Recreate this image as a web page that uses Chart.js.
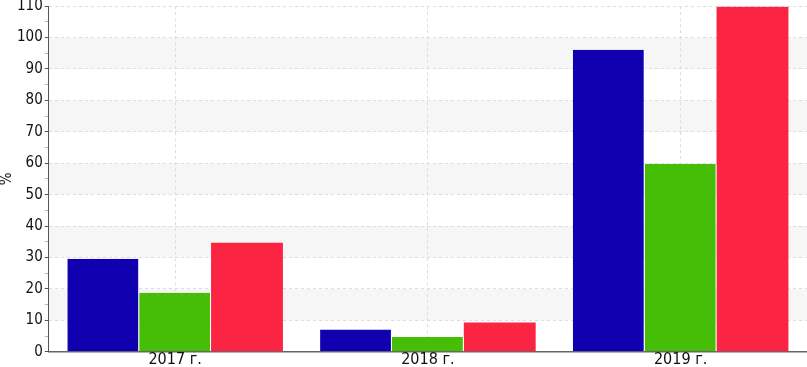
<!DOCTYPE html>
<html>
<head>
<meta charset="utf-8">
<script src="https://cdn.jsdelivr.net/npm/chart.js@4/dist/chart.umd.min.js"></script>
<style>
  html, body { margin: 0; padding: 0; background: #fff; }
  #wrap { width: 807px; height: 367px; }
</style>
</head>
<body>
<div id="wrap"><canvas id="bars"></canvas></div>
<script>
var years = ['2017 г.', '2018 г.', '2019 г.'];
var seriesBlue = [29.6, 7.1, 96.1];
var seriesGreen = [18.8, 4.7, 59.8];
var seriesRed = [34.7, 9.3, 109.8];
var yTicks = [0, 10, 20, 30, 40, 50, 60, 70, 80, 90, 100, 110];
var shadedBands = [[10, 20], [30, 40], [50, 60], [70, 80], [90, 100]];

// light alternating bands behind the bars
var bandPlugin = {
    id: 'bands',
    beforeDraw: function (chart) {
        var c = chart.ctx, area = chart.chartArea, y = chart.scales.y;
        c.save();
        c.fillStyle = '#f6f6f6';
        shadedBands.forEach(function (b) {
            var top = y.getPixelForValue(b[1]);
            var bot = y.getPixelForValue(b[0]);
            c.fillRect(area.left, top, area.right - area.left, bot - top);
        });
        c.restore();
    }
};

Chart.defaults.font.family = "'DejaVu Sans Condensed', 'DejaVu Sans'";
Chart.defaults.font.size = 15;
Chart.defaults.color = '#111';

var ctx = document.getElementById('bars').getContext('2d');
var myChart = new Chart(ctx, {
    type: 'bar',
    data: {
        labels: years,
        datasets: [
            { data: seriesBlue, backgroundColor: '#1100b0', borderColor: '#ffffff', borderWidth: { top: 0, left: 0, bottom: 0, right: 1 } },
            { data: seriesGreen, backgroundColor: '#46be08', borderColor: '#ffffff', borderWidth: { top: 0, left: 0, bottom: 0, right: 1 } },
            { data: seriesRed, backgroundColor: '#fb2443', borderColor: '#ffffff', borderWidth: 0 }
        ]
    },
    options: {
        responsive: true,
        maintainAspectRatio: false,
        animation: false,
        layout: { padding: { top: 0, right: 0, left: 0, bottom: 0 } },
        plugins: { legend: { display: false }, tooltip: { enabled: false } },
        datasets: { bar: { categoryPercentage: 0.853, barPercentage: 1.0 } },
        scales: {
            x: {
                offset: true,
                grid: { offset: false, color: '#dddddd', drawTicks: false },
                border: { color: '#666666', width: 1.5, dash: [3, 3] },
                ticks: { padding: 0, color: '#111', font: { size: 16, lineHeight: 0.95 } }
            },
            y: {
                min: 0,
                max: 110,
                afterBuildTicks: function (axis) {
                    var t = [];
                    for (var v = 0; v <= 110; v += 5) t.push({ value: v });
                    axis.ticks = t;
                },
                grid: {
                    color: function (c) { return c.tick && c.tick.value % 10 === 0 ? '#dddddd' : 'rgba(0,0,0,0)'; },
                    tickColor: function (c) { return c.tick && c.tick.value % 10 === 0 ? '#555555' : '#f0a0b0'; },
                    tickLength: 4
                },
                border: { color: '#555555', width: 1, dash: [3, 3] },
                ticks: {
                    autoSkip: false,
                    padding: 2,
                    color: '#111',
                    font: { size: 15, lineHeight: 0.55 },
                    callback: function (v) { return yTicks.indexOf(v) >= 0 ? v : ''; }
                },
                title: { display: true, text: '%', color: '#111', font: { size: 15, lineHeight: 1 }, padding: 0 }
            }
        }
    },
    plugins: [bandPlugin]
});
</script>
</body>
</html>
